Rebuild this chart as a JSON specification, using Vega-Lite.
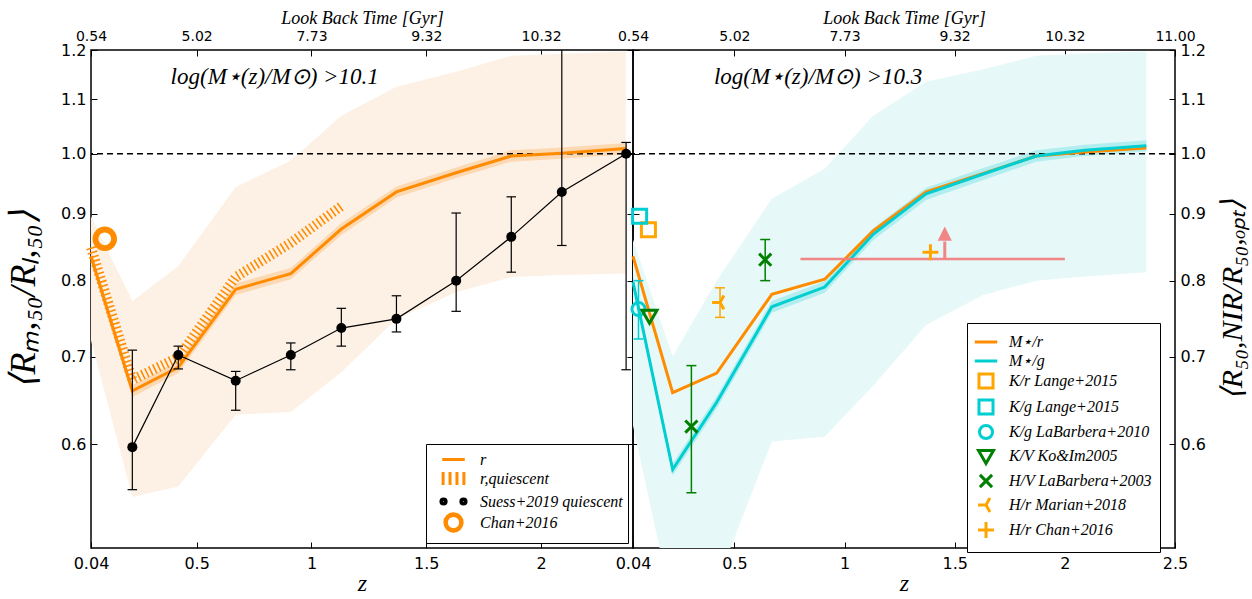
{
  "$schema": "https://vega.github.io/schema/vega-lite/v6.json",
  "background": "white",
  "padding": {"left": 4, "top": 8, "right": 4, "bottom": 0},
  "spacing": 0,
  "bounds": "flush",
  "datasets": {
    "leftBand": [
      {"z": 0.04, "lo": 0.72, "hi": 0.896},
      {"z": 0.22, "lo": 0.547, "hi": 0.772},
      {"z": 0.42, "lo": 0.557, "hi": 0.821},
      {"z": 0.67, "lo": 0.632, "hi": 0.943},
      {"z": 0.91, "lo": 0.635, "hi": 0.988},
      {"z": 1.13, "lo": 0.681, "hi": 1.069},
      {"z": 1.37, "lo": 0.748, "hi": 1.125},
      {"z": 1.63, "lo": 0.784, "hi": 1.155},
      {"z": 1.87, "lo": 0.805, "hi": 1.188},
      {"z": 2.09, "lo": 0.808, "hi": 1.192},
      {"z": 2.37, "lo": 0.81, "hi": 1.197}
    ],
    "leftR": [
      {"z": 0.04, "r": 0.835, "rlo": 0.826, "rhi": 0.844},
      {"z": 0.22, "r": 0.659, "rlo": 0.652, "rhi": 0.666},
      {"z": 0.42, "r": 0.687, "rlo": 0.68, "rhi": 0.694},
      {"z": 0.67, "r": 0.788, "rlo": 0.78, "rhi": 0.796},
      {"z": 0.91, "r": 0.81, "rlo": 0.802, "rhi": 0.818},
      {"z": 1.13, "r": 0.876, "rlo": 0.867, "rhi": 0.885},
      {"z": 1.37, "r": 0.935, "rlo": 0.926, "rhi": 0.944},
      {"z": 1.63, "r": 0.967, "rlo": 0.958, "rhi": 0.976},
      {"z": 1.87, "r": 0.996, "rlo": 0.986, "rhi": 1.006},
      {"z": 2.09, "r": 1.001, "rlo": 0.991, "rhi": 1.011},
      {"z": 2.37, "r": 1.009, "rlo": 0.999, "rhi": 1.019}
    ],
    "quiescent": [
      {"z": 0.04, "q": 0.848},
      {"z": 0.22, "q": 0.672},
      {"z": 0.42, "q": 0.699},
      {"z": 0.67, "q": 0.805},
      {"z": 0.91, "q": 0.855},
      {"z": 1.13, "q": 0.912}
    ],
    "suess": [
      {"z": 0.22, "v": 0.597, "lo": 0.554, "hi": 0.708},
      {"z": 0.42, "v": 0.702, "lo": 0.685, "hi": 0.713},
      {"z": 0.67, "v": 0.671, "lo": 0.637, "hi": 0.682},
      {"z": 0.91, "v": 0.702, "lo": 0.684, "hi": 0.717},
      {"z": 1.13, "v": 0.736, "lo": 0.713, "hi": 0.762},
      {"z": 1.37, "v": 0.748, "lo": 0.731, "hi": 0.779},
      {"z": 1.63, "v": 0.8, "lo": 0.758, "hi": 0.901},
      {"z": 1.87, "v": 0.864, "lo": 0.812, "hi": 0.927},
      {"z": 2.09, "v": 0.935, "lo": 0.851, "hi": 1.3},
      {"z": 2.37, "v": 1.0, "lo": 0.684, "hi": 1.02}
    ],
    "chan": [{"z": 0.1, "v": 0.861, "s": "Chan+2016"}],
    "rightBand": [
      {"z": 0.04, "lo": 0.62, "hi": 0.86},
      {"z": 0.22, "lo": 0.45, "hi": 0.7},
      {"z": 0.42, "lo": 0.47, "hi": 0.8},
      {"z": 0.67, "lo": 0.603, "hi": 0.924},
      {"z": 0.91, "lo": 0.608, "hi": 0.974},
      {"z": 1.13, "lo": 0.665, "hi": 1.069},
      {"z": 1.37, "lo": 0.74, "hi": 1.135},
      {"z": 1.63, "lo": 0.78, "hi": 1.16},
      {"z": 1.87, "lo": 0.8, "hi": 1.188},
      {"z": 2.09, "lo": 0.806, "hi": 1.193},
      {"z": 2.37, "lo": 0.812, "hi": 1.197}
    ],
    "rightLines": [
      {"z": 0.04, "r": 0.835, "g": 0.798, "glo": 0.79, "ghi": 0.806},
      {"z": 0.22, "r": 0.657, "g": 0.574, "glo": 0.568, "ghi": 0.58},
      {"z": 0.42, "r": 0.68, "g": 0.646, "glo": 0.639, "ghi": 0.653},
      {"z": 0.67, "r": 0.781, "g": 0.764, "glo": 0.756, "ghi": 0.772},
      {"z": 0.91, "r": 0.802, "g": 0.791, "glo": 0.783, "ghi": 0.799},
      {"z": 1.13, "r": 0.873, "g": 0.868, "glo": 0.859, "ghi": 0.877},
      {"z": 1.37, "r": 0.935, "g": 0.932, "glo": 0.922, "ghi": 0.942},
      {"z": 1.63, "r": 0.966, "g": 0.965, "glo": 0.955, "ghi": 0.975},
      {"z": 1.87, "r": 0.996, "g": 0.996, "glo": 0.986, "ghi": 1.006},
      {"z": 2.09, "r": 1.003, "g": 1.006, "glo": 0.996, "ghi": 1.016},
      {"z": 2.37, "r": 1.01, "g": 1.014, "glo": 1.004, "ghi": 1.024}
    ],
    "obs": [
      {"z": 0.11, "v": 0.875, "series": "K/r Lange+2015"},
      {"z": 0.07, "v": 0.896, "series": "K/g Lange+2015"},
      {"z": 0.065, "v": 0.761, "lo": 0.722, "hi": 0.8, "series": "K/g LaBarbera+2010"},
      {"z": 0.115, "v": 0.752, "series": "K/V Ko&Im2005"},
      {"z": 0.305, "v": 0.619, "lo": 0.551, "hi": 0.689, "series": "H/V LaBarbera+2003"},
      {"z": 0.64, "v": 0.83, "lo": 0.8, "hi": 0.86, "series": "H/V LaBarbera+2003"},
      {"z": 0.435, "v": 0.77, "lo": 0.75, "hi": 0.79, "series": "H/r Marian+2018"},
      {"z": 1.39, "v": 0.841, "series": "H/r Chan+2016"}
    ],
    "pink": [{"z": 0.8, "z2": 2.0, "v": 0.831}],
    "arrow": [{"z": 1.455, "v": 0.831, "v2": 0.857, "head": 0.869}],
    "ref": [{"one": 1}],
    "labL": [{"z": 0.84, "v": 1.145, "t": "log(M⋆(z)/M⊙) >10.1"}],
    "labR": [{"z": 0.88, "v": 1.145, "t": "log(M⋆(z)/M⊙) >10.3"}]
  },
  "hconcat": [
    {
      "width": 542,
      "height": 498,
      "resolve": {"axis": {"x": "independent", "y": "independent"}},
      "layer": [
        {
          "data": {"name": "leftBand"},
          "mark": {"type": "area", "color": "#fdf1e5", "opacity": 1, "clip": true},
          "encoding": {
            "x": {"field": "z", "type": "quantitative", "scale": {"domain": [0.04, 2.4], "nice": false, "zero": false},
              "axis": {"orient": "bottom", "values": [0.04, 0.5, 1, 1.5, 2], "labelExpr": "'' + datum.value", "labelPadding": 13, "title": "z", "titleFontSize": 24, "titlePadding": 0}},
            "y": {"field": "lo", "type": "quantitative", "scale": {"type": "log", "domain": [0.5, 1.2], "nice": false},
              "axis": {"orient": "left", "values": [0.6, 0.7, 0.8, 0.9, 1, 1.1, 1.2], "format": ".1f", "title": "⟨Rₘ,₅₀/Rₗ,₅₀⟩", "titleFontSize": 36, "titlePadding": 18}},
            "y2": {"field": "hi"}
          }
        },
        {
          "data": {"name": "leftR"},
          "mark": {"type": "area", "color": "#fcd8b3", "opacity": 1, "clip": true},
          "encoding": {
            "x": {"field": "z", "type": "quantitative", "scale": {"domain": [0.04, 2.4], "nice": false, "zero": false},
              "axis": {"orient": "top", "values": [0.04, 0.5, 1, 1.5, 2], "labelExpr": "datum.value == 0.04 ? '0.54' : datum.value == 0.5 ? '5.02' : datum.value == 1 ? '7.73' : datum.value == 1.5 ? '9.32' : datum.value == 2 ? '10.32' : '11.00'", "labelFontSize": 14, "labelPadding": 13, "title": "Look Back Time [Gyr]", "titleFontSize": 18, "titlePadding": 2}},
            "y": {"field": "rlo", "type": "quantitative", "scale": {"type": "log", "domain": [0.5, 1.2], "nice": false},
              "axis": {"orient": "right", "values": [0.6, 0.7, 0.8, 0.9, 1, 1.1, 1.2], "labels": false, "title": null}},
            "y2": {"field": "rhi"}
          }
        },
        {
          "data": {"name": "ref"},
          "mark": {"type": "rule", "color": "black", "strokeWidth": 1.5, "strokeDash": [6, 4]},
          "encoding": {
            "y": {"field": "one", "type": "quantitative", "scale": {"type": "log", "domain": [0.5, 1.2], "nice": false}, "axis": null}
          }
        },
        {
          "data": {"name": "leftR"},
          "mark": {"type": "line", "color": "#ff8c00", "strokeWidth": 3},
          "encoding": {
            "x": {"field": "z", "type": "quantitative", "scale": {"domain": [0.04, 2.4], "nice": false, "zero": false}, "axis": null},
            "y": {"field": "r", "type": "quantitative", "scale": {"type": "log", "domain": [0.5, 1.2], "nice": false}, "axis": null}
          }
        },
        {
          "data": {"name": "quiescent"},
          "mark": {"type": "line", "color": "#ff8c00", "strokeWidth": 10, "strokeDash": [1.6, 2.8]},
          "encoding": {
            "x": {"field": "z", "type": "quantitative", "scale": {"domain": [0.04, 2.4], "nice": false, "zero": false}, "axis": null},
            "y": {"field": "q", "type": "quantitative", "scale": {"type": "log", "domain": [0.5, 1.2], "nice": false}, "axis": null}
          }
        },
        {
          "data": {"name": "suess"},
          "mark": {"type": "line", "color": "black", "strokeWidth": 1.2},
          "encoding": {
            "x": {"field": "z", "type": "quantitative", "scale": {"domain": [0.04, 2.4], "nice": false, "zero": false}, "axis": null},
            "y": {"field": "v", "type": "quantitative", "scale": {"type": "log", "domain": [0.5, 1.2], "nice": false}, "axis": null}
          }
        },
        {
          "data": {"name": "suess"},
          "mark": {"type": "rule", "color": "black", "strokeWidth": 1.2, "clip": true},
          "encoding": {
            "x": {"field": "z", "type": "quantitative", "scale": {"domain": [0.04, 2.4], "nice": false, "zero": false}, "axis": null},
            "y": {"field": "lo", "type": "quantitative", "scale": {"type": "log", "domain": [0.5, 1.2], "nice": false}, "axis": null},
            "y2": {"field": "hi"}
          }
        },
        {
          "data": {"name": "suess"},
          "mark": {"type": "point", "shape": "M-1,0H1", "size": 90, "filled": false, "color": "black", "strokeWidth": 1.2, "opacity": 1, "clip": true},
          "encoding": {
            "x": {"field": "z", "type": "quantitative", "scale": {"domain": [0.04, 2.4], "nice": false, "zero": false}, "axis": null},
            "y": {"field": "lo", "type": "quantitative", "scale": {"type": "log", "domain": [0.5, 1.2], "nice": false}, "axis": null}
          }
        },
        {
          "data": {"name": "suess"},
          "mark": {"type": "point", "shape": "M-1,0H1", "size": 90, "filled": false, "color": "black", "strokeWidth": 1.2, "opacity": 1, "clip": true},
          "encoding": {
            "x": {"field": "z", "type": "quantitative", "scale": {"domain": [0.04, 2.4], "nice": false, "zero": false}, "axis": null},
            "y": {"field": "hi", "type": "quantitative", "scale": {"type": "log", "domain": [0.5, 1.2], "nice": false}, "axis": null}
          }
        },
        {
          "data": {"name": "suess"},
          "mark": {"type": "point", "shape": "circle", "size": 100, "filled": true, "color": "black", "opacity": 1},
          "encoding": {
            "x": {"field": "z", "type": "quantitative", "scale": {"domain": [0.04, 2.4], "nice": false, "zero": false}, "axis": null},
            "y": {"field": "v", "type": "quantitative", "scale": {"type": "log", "domain": [0.5, 1.2], "nice": false}, "axis": null}
          }
        },
        {
          "data": {"name": "chan"},
          "mark": {"type": "point", "size": 420, "filled": false, "strokeWidth": 4, "opacity": 1},
          "encoding": {
            "x": {"field": "z", "type": "quantitative", "scale": {"domain": [0.04, 2.4], "nice": false, "zero": false}, "axis": null},
            "y": {"field": "v", "type": "quantitative", "scale": {"type": "log", "domain": [0.5, 1.2], "nice": false}, "axis": null},
            "color": {"field": "s", "type": "nominal",
              "scale": {"domain": ["r", "r,quiescent", "Suess+2019 quiescent", "Chan+2016"], "range": ["#ff8c00", "#ff8c00", "black", "#ff8c00"]},
              "legend": {"title": null, "orient": "bottom-right", "offset": 5, "strokeColor": "black", "fillColor": "white", "padding": 5, "labelFont": "Liberation Serif", "labelFontStyle": "italic", "labelFontSize": 16, "labelColor": "black", "labelLimit": 400, "labelOffset": 16, "symbolOffset": 12, "symbolSize": 300, "symbolStrokeWidth": 3, "rowPadding": -4}},
            "shape": {"field": "s", "type": "nominal",
              "scale": {"domain": ["r", "r,quiescent", "Suess+2019 quiescent", "Chan+2016"], "range": [
                "M-1.3,0H1.3",
                "M-1.2,-0.75V0.75M-0.4,-0.75V0.75M0.4,-0.75V0.75M1.2,-0.75V0.75",
                "M-1.27,0A0.12,0.12 0 1,0 -1.03,0A0.12,0.12 0 1,0 -1.27,0ZM-1.45,0A0.3,0.3 0 1,0 -0.85,0A0.3,0.3 0 1,0 -1.45,0ZM1.03,0A0.12,0.12 0 1,0 1.27,0A0.12,0.12 0 1,0 1.03,0ZM0.85,0A0.3,0.3 0 1,0 1.45,0A0.3,0.3 0 1,0 0.85,0Z",
                "M-0.82,0A0.82,0.82 0 1,0 0.82,0A0.82,0.82 0 1,0 -0.82,0ZM-1,0A1,1 0 1,0 1,0A1,1 0 1,0 -1,0Z"]},
              "legend": {"title": null, "orient": "bottom-right", "offset": 5, "strokeColor": "black", "fillColor": "white", "padding": 5, "labelFont": "Liberation Serif", "labelFontStyle": "italic", "labelFontSize": 16, "labelColor": "black", "labelLimit": 400, "labelOffset": 16, "symbolOffset": 12, "symbolSize": 300, "symbolStrokeWidth": 3, "rowPadding": -4}}
          }
        },
        {
          "data": {"name": "labL"},
          "mark": {"type": "text", "font": "Liberation Serif", "fontStyle": "italic", "fontSize": 23, "color": "black", "align": "center", "baseline": "middle"},
          "encoding": {
            "x": {"field": "z", "type": "quantitative", "scale": {"domain": [0.04, 2.4], "nice": false, "zero": false}, "axis": null},
            "y": {"field": "v", "type": "quantitative", "scale": {"type": "log", "domain": [0.5, 1.2], "nice": false}, "axis": null},
            "text": {"field": "t"}
          }
        }
      ]
    },
    {
      "width": 542,
      "height": 498,
      "resolve": {"axis": {"x": "independent", "y": "independent"}},
      "layer": [
        {
          "data": {"name": "rightBand"},
          "mark": {"type": "area", "color": "#e7f8f8", "opacity": 1, "clip": true},
          "encoding": {
            "x": {"field": "z", "type": "quantitative", "scale": {"domain": [0.04, 2.5], "nice": false, "zero": false},
              "axis": {"orient": "bottom", "values": [0.04, 0.5, 1, 1.5, 2, 2.5], "labelExpr": "'' + datum.value", "labelPadding": 13, "title": "z", "titleFontSize": 24, "titlePadding": 0}},
            "y": {"field": "lo", "type": "quantitative", "scale": {"type": "log", "domain": [0.5, 1.2], "nice": false},
              "axis": {"orient": "left", "values": [0.6, 0.7, 0.8, 0.9, 1, 1.1, 1.2], "labels": false, "title": null}},
            "y2": {"field": "hi"}
          }
        },
        {
          "data": {"name": "rightLines"},
          "mark": {"type": "area", "color": "#b2eef0", "opacity": 1, "clip": true},
          "encoding": {
            "x": {"field": "z", "type": "quantitative", "scale": {"domain": [0.04, 2.5], "nice": false, "zero": false},
              "axis": {"orient": "top", "values": [0.04, 0.5, 1, 1.5, 2, 2.5], "labelExpr": "datum.value == 0.04 ? '0.54' : datum.value == 0.5 ? '5.02' : datum.value == 1 ? '7.73' : datum.value == 1.5 ? '9.32' : datum.value == 2 ? '10.32' : '11.00'", "labelFontSize": 14, "labelPadding": 13, "title": "Look Back Time [Gyr]", "titleFontSize": 18, "titlePadding": 2}},
            "y": {"field": "glo", "type": "quantitative", "scale": {"type": "log", "domain": [0.5, 1.2], "nice": false},
              "axis": {"orient": "right", "values": [0.6, 0.7, 0.8, 0.9, 1, 1.1, 1.2], "format": ".1f", "title": "⟨R₅₀,NIR/R₅₀,ₒₚₜ⟩", "titleFontSize": 30, "titleAngle": 270, "titleBaseline": "top", "titlePadding": 12}},
            "y2": {"field": "ghi"}
          }
        },
        {
          "data": {"name": "ref"},
          "mark": {"type": "rule", "color": "black", "strokeWidth": 1.5, "strokeDash": [6, 4]},
          "encoding": {
            "y": {"field": "one", "type": "quantitative", "scale": {"type": "log", "domain": [0.5, 1.2], "nice": false}, "axis": null}
          }
        },
        {
          "data": {"name": "rightLines"},
          "mark": {"type": "line", "color": "#ff8c00", "strokeWidth": 3},
          "encoding": {
            "x": {"field": "z", "type": "quantitative", "scale": {"domain": [0.04, 2.5], "nice": false, "zero": false}, "axis": null},
            "y": {"field": "r", "type": "quantitative", "scale": {"type": "log", "domain": [0.5, 1.2], "nice": false}, "axis": null}
          }
        },
        {
          "data": {"name": "rightLines"},
          "mark": {"type": "line", "color": "#00ced1", "strokeWidth": 3},
          "encoding": {
            "x": {"field": "z", "type": "quantitative", "scale": {"domain": [0.04, 2.5], "nice": false, "zero": false}, "axis": null},
            "y": {"field": "g", "type": "quantitative", "scale": {"type": "log", "domain": [0.5, 1.2], "nice": false}, "axis": null}
          }
        },
        {
          "data": {"name": "pink"},
          "mark": {"type": "rule", "color": "#f08080", "strokeWidth": 2.5, "opacity": 0.95},
          "encoding": {
            "x": {"field": "z", "type": "quantitative", "scale": {"domain": [0.04, 2.5], "nice": false, "zero": false}, "axis": null},
            "x2": {"field": "z2"},
            "y": {"field": "v", "type": "quantitative", "scale": {"type": "log", "domain": [0.5, 1.2], "nice": false}, "axis": null}
          }
        },
        {
          "data": {"name": "arrow"},
          "mark": {"type": "rule", "color": "#f08080", "strokeWidth": 3, "opacity": 0.95},
          "encoding": {
            "x": {"field": "z", "type": "quantitative", "scale": {"domain": [0.04, 2.5], "nice": false, "zero": false}, "axis": null},
            "y": {"field": "v", "type": "quantitative", "scale": {"type": "log", "domain": [0.5, 1.2], "nice": false}, "axis": null},
            "y2": {"field": "v2"}
          }
        },
        {
          "data": {"name": "arrow"},
          "mark": {"type": "point", "shape": "M-1,1L0,-1L1,1Z", "size": 200, "filled": true, "color": "#f08080", "opacity": 0.95},
          "encoding": {
            "x": {"field": "z", "type": "quantitative", "scale": {"domain": [0.04, 2.5], "nice": false, "zero": false}, "axis": null},
            "y": {"field": "head", "type": "quantitative", "scale": {"type": "log", "domain": [0.5, 1.2], "nice": false}, "axis": null}
          }
        },
        {
          "data": {"name": "obs"},
          "transform": [{"filter": "datum.series == 'K/g LaBarbera+2010'"}],
          "mark": {"type": "rule", "color": "#00ced1", "strokeWidth": 1.5},
          "encoding": {
            "x": {"field": "z", "type": "quantitative", "scale": {"domain": [0.04, 2.5], "nice": false, "zero": false}, "axis": null},
            "y": {"field": "lo", "type": "quantitative", "scale": {"type": "log", "domain": [0.5, 1.2], "nice": false}, "axis": null},
            "y2": {"field": "hi"}
          }
        },
        {
          "data": {"name": "obs"},
          "transform": [{"filter": "datum.series == 'K/g LaBarbera+2010'"}],
          "mark": {"type": "point", "shape": "M-1,0H1", "size": 100, "filled": false, "color": "#00ced1", "strokeWidth": 1.5, "opacity": 1},
          "encoding": {
            "x": {"field": "z", "type": "quantitative", "scale": {"domain": [0.04, 2.5], "nice": false, "zero": false}, "axis": null},
            "y": {"field": "lo", "type": "quantitative", "scale": {"type": "log", "domain": [0.5, 1.2], "nice": false}, "axis": null}
          }
        },
        {
          "data": {"name": "obs"},
          "transform": [{"filter": "datum.series == 'K/g LaBarbera+2010'"}],
          "mark": {"type": "point", "shape": "M-1,0H1", "size": 100, "filled": false, "color": "#00ced1", "strokeWidth": 1.5, "opacity": 1},
          "encoding": {
            "x": {"field": "z", "type": "quantitative", "scale": {"domain": [0.04, 2.5], "nice": false, "zero": false}, "axis": null},
            "y": {"field": "hi", "type": "quantitative", "scale": {"type": "log", "domain": [0.5, 1.2], "nice": false}, "axis": null}
          }
        },
        {
          "data": {"name": "obs"},
          "transform": [{"filter": "datum.series == 'H/V LaBarbera+2003'"}],
          "mark": {"type": "rule", "color": "#008000", "strokeWidth": 1.5},
          "encoding": {
            "x": {"field": "z", "type": "quantitative", "scale": {"domain": [0.04, 2.5], "nice": false, "zero": false}, "axis": null},
            "y": {"field": "lo", "type": "quantitative", "scale": {"type": "log", "domain": [0.5, 1.2], "nice": false}, "axis": null},
            "y2": {"field": "hi"}
          }
        },
        {
          "data": {"name": "obs"},
          "transform": [{"filter": "datum.series == 'H/V LaBarbera+2003'"}],
          "mark": {"type": "point", "shape": "M-1,0H1", "size": 100, "filled": false, "color": "#008000", "strokeWidth": 1.5, "opacity": 1},
          "encoding": {
            "x": {"field": "z", "type": "quantitative", "scale": {"domain": [0.04, 2.5], "nice": false, "zero": false}, "axis": null},
            "y": {"field": "lo", "type": "quantitative", "scale": {"type": "log", "domain": [0.5, 1.2], "nice": false}, "axis": null}
          }
        },
        {
          "data": {"name": "obs"},
          "transform": [{"filter": "datum.series == 'H/V LaBarbera+2003'"}],
          "mark": {"type": "point", "shape": "M-1,0H1", "size": 100, "filled": false, "color": "#008000", "strokeWidth": 1.5, "opacity": 1},
          "encoding": {
            "x": {"field": "z", "type": "quantitative", "scale": {"domain": [0.04, 2.5], "nice": false, "zero": false}, "axis": null},
            "y": {"field": "hi", "type": "quantitative", "scale": {"type": "log", "domain": [0.5, 1.2], "nice": false}, "axis": null}
          }
        },
        {
          "data": {"name": "obs"},
          "transform": [{"filter": "datum.series == 'H/r Marian+2018'"}],
          "mark": {"type": "rule", "color": "#ffa500", "strokeWidth": 1.5},
          "encoding": {
            "x": {"field": "z", "type": "quantitative", "scale": {"domain": [0.04, 2.5], "nice": false, "zero": false}, "axis": null},
            "y": {"field": "lo", "type": "quantitative", "scale": {"type": "log", "domain": [0.5, 1.2], "nice": false}, "axis": null},
            "y2": {"field": "hi"}
          }
        },
        {
          "data": {"name": "obs"},
          "transform": [{"filter": "datum.series == 'H/r Marian+2018'"}],
          "mark": {"type": "point", "shape": "M-1,0H1", "size": 100, "filled": false, "color": "#ffa500", "strokeWidth": 1.5, "opacity": 1},
          "encoding": {
            "x": {"field": "z", "type": "quantitative", "scale": {"domain": [0.04, 2.5], "nice": false, "zero": false}, "axis": null},
            "y": {"field": "lo", "type": "quantitative", "scale": {"type": "log", "domain": [0.5, 1.2], "nice": false}, "axis": null}
          }
        },
        {
          "data": {"name": "obs"},
          "transform": [{"filter": "datum.series == 'H/r Marian+2018'"}],
          "mark": {"type": "point", "shape": "M-1,0H1", "size": 100, "filled": false, "color": "#ffa500", "strokeWidth": 1.5, "opacity": 1},
          "encoding": {
            "x": {"field": "z", "type": "quantitative", "scale": {"domain": [0.04, 2.5], "nice": false, "zero": false}, "axis": null},
            "y": {"field": "hi", "type": "quantitative", "scale": {"type": "log", "domain": [0.5, 1.2], "nice": false}, "axis": null}
          }
        },
        {
          "data": {"name": "obs"},
          "mark": {"type": "point", "size": 350, "filled": false, "strokeWidth": 3, "opacity": 1},
          "encoding": {
            "x": {"field": "z", "type": "quantitative", "scale": {"domain": [0.04, 2.5], "nice": false, "zero": false}, "axis": null},
            "y": {"field": "v", "type": "quantitative", "scale": {"type": "log", "domain": [0.5, 1.2], "nice": false}, "axis": null},
            "stroke": {"field": "series", "type": "nominal",
              "scale": {"domain": ["M⋆/r", "M⋆/g", "K/r Lange+2015", "K/g Lange+2015", "K/g LaBarbera+2010", "K/V Ko&Im2005", "H/V LaBarbera+2003", "H/r Marian+2018", "H/r Chan+2016"],
                "range": ["#ff8c00", "#00ced1", "#ffa500", "#00ced1", "#00ced1", "#008000", "#008000", "#ffa500", "#ffa500"]},
              "legend": {"title": null, "orient": "none", "legendX": 334, "legendY": 273, "strokeColor": "black", "fillColor": "white", "padding": 8, "labelFont": "Liberation Serif", "labelFontStyle": "italic", "labelFontSize": 16, "labelColor": "black", "labelLimit": 400, "labelOffset": 12, "symbolSize": 350, "symbolStrokeWidth": 3, "rowPadding": -2}},
            "shape": {"field": "series", "type": "nominal",
              "scale": {"domain": ["M⋆/r", "M⋆/g", "K/r Lange+2015", "K/g Lange+2015", "K/g LaBarbera+2010", "K/V Ko&Im2005", "H/V LaBarbera+2003", "H/r Marian+2018", "H/r Chan+2016"],
                "range": ["M-1.2,0H1.2", "M-1.2,0H1.2", "M-0.75,-0.75H0.75V0.75H-0.75Z", "M-0.75,-0.75H0.75V0.75H-0.75Z", "M-0.7,0A0.7,0.7 0 1,0 0.7,0A0.7,0.7 0 1,0 -0.7,0Z", "M-0.8,-0.6H0.8L0,0.8Z", "M-0.65,-0.65L0.65,0.65M-0.65,0.65L0.65,-0.65", "M0,0H-0.85M0,0L0.42,-0.74M0,0L0.42,0.74", "M-0.85,0H0.85M0,-0.85V0.85"]},
              "legend": {"title": null, "orient": "none", "legendX": 334, "legendY": 273, "strokeColor": "black", "fillColor": "white", "padding": 8, "labelFont": "Liberation Serif", "labelFontStyle": "italic", "labelFontSize": 16, "labelColor": "black", "labelLimit": 400, "labelOffset": 12, "symbolSize": 350, "symbolStrokeWidth": 3, "rowPadding": -2}}
          }
        },
        {
          "data": {"name": "labR"},
          "mark": {"type": "text", "font": "Liberation Serif", "fontStyle": "italic", "fontSize": 23, "color": "black", "align": "center", "baseline": "middle"},
          "encoding": {
            "x": {"field": "z", "type": "quantitative", "scale": {"domain": [0.04, 2.5], "nice": false, "zero": false}, "axis": null},
            "y": {"field": "v", "type": "quantitative", "scale": {"type": "log", "domain": [0.5, 1.2], "nice": false}, "axis": null},
            "text": {"field": "t"}
          }
        }
      ]
    }
  ],
  "resolve": {"scale": {"x": "independent", "y": "independent", "color": "independent", "shape": "independent", "stroke": "independent"}},
  "config": {
    "view": {"stroke": "black", "strokeWidth": 1.5},
    "axis": {"domain": false, "grid": false, "ticks": true, "tickColor": "black", "tickWidth": 1, "tickSize": -6, "labelFont": "DejaVu Sans", "labelFontSize": 16, "labelColor": "black", "labelPadding": 11, "labelFlush": false, "labelOverlap": false, "titleFont": "Liberation Serif", "titleFontStyle": "italic", "titleFontWeight": "normal", "titleColor": "black"}
  }
}
